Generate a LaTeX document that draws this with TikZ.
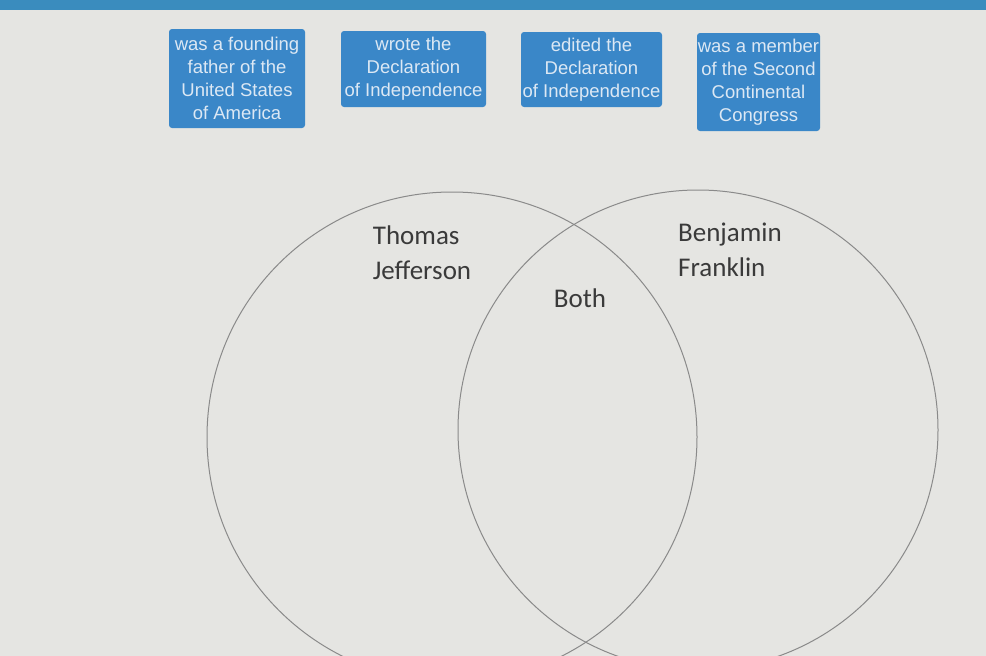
\documentclass[tikz,border=0pt]{standalone}
\usepackage{fontspec}
\setmainfont{Liberation Sans}
\newfontfamily\calfont{Carlito}
\definecolor{bg}{HTML}{E5E5E2}
\definecolor{topbar}{HTML}{3A8CBE}
\definecolor{boxblue}{HTML}{3A87C8}
\definecolor{boxtext}{HTML}{DCE8F4}
\definecolor{circ}{HTML}{8A8A8A}
\definecolor{lbl}{HTML}{3A3A3A}
\begin{document}
\begin{tikzpicture}[x=1pt,y=-1pt,
  card/.style={fill=boxblue, rounded corners=3pt, text=boxtext, align=center,
    font=\fontsize{18.5}{23}\selectfont, inner sep=0pt},
  venn/.style={circle, draw=circ, line width=1pt, inner sep=0pt},
  vlabel/.style={text=lbl, font=\calfont\fontsize{27}{35}\selectfont, align=left, inner sep=0pt}]
\useasboundingbox (0,0) rectangle (986,656);
\fill[bg] (0,0) rectangle (986,656);
\fill[topbar] (0,0) rectangle (986,10);
\begin{scope}
\clip (0,0) rectangle (986,656);
\node[venn, minimum size=490pt] (jeff) at (452,437) {};
\node[venn, minimum size=480pt] (frank) at (698,430) {};
\end{scope}
\node[card, minimum width=136pt, minimum height=99pt] (b1) at (237,78.5)
  {was a founding\\father of the\\United States\\of America};
\node[card, minimum width=145pt, minimum height=76pt] (b2) at (413.5,69)
  {wrote the\\Declaration\\of Independence};
\node[card, minimum width=141pt, minimum height=75pt] (b3) at (591.5,69.5)
  {edited the\\Declaration\\of Independence};
\node[card, minimum width=123pt, minimum height=98pt] (b4) at (758.5,82)
  {was a member\\of the Second\\Continental\\Congress};
\node[vlabel] (tj) at (422,253) {Thomas\\Jefferson};
\node[vlabel] (bf) at (730,250) {Benjamin\\Franklin};
\node[vlabel] (both) at (580,298) {Both};
\end{tikzpicture}
\end{document}
